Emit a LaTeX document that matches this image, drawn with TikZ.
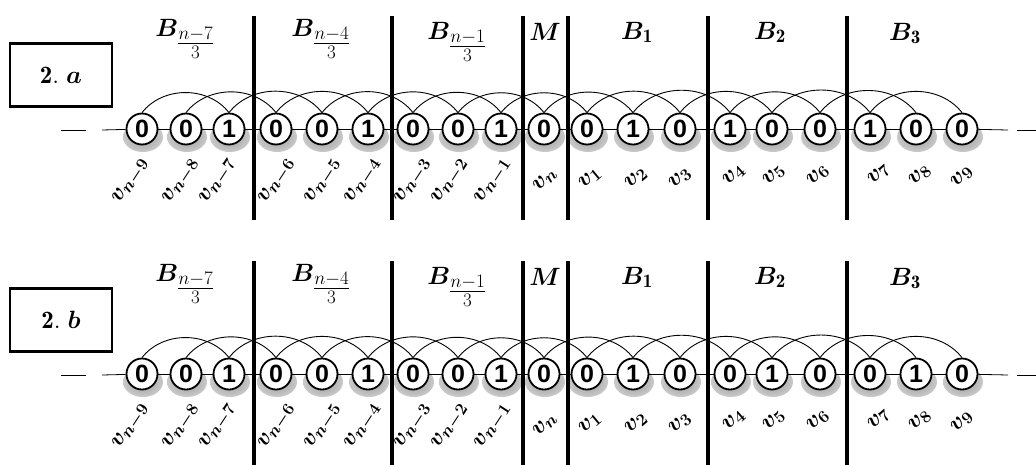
\RequirePackage{fix-cm}
\documentclass[tikz,border=0pt]{standalone}
\usepackage{amsmath}
\usepackage{bm}
\usepackage{fontspec}
\newfontfamily\digitfont{Liberation Sans}
\DeclareMathSizes{23}{23}{17}{13}
\DeclareMathSizes{25}{25}{19}{15}
\pgfdeclarelayer{shadowlayer}
\pgfdeclarelayer{linelayer}
\pgfsetlayers{shadowlayer,linelayer,main}
\pgfdeclareradialshading{ball}{\pgfpoint{0bp}{0bp}}{color(0bp)=(white); color(30bp)=(white); color(43bp)=(black!22); color(50bp)=(black!50); color(100bp)=(black!50)}
\pgfdeclareradialshading{softshadow}{\pgfpoint{0bp}{0bp}}{color(0bp)=(black!40); color(26bp)=(black!20); color(38bp)=(black!7); color(50bp)=(white); color(100bp)=(white)}
\tikzset{
  vtx/.style={circle, draw=black, line width=1.8pt, shade, shading=ball, minimum size=31pt, inner sep=0pt,
    font=\digitfont\bfseries\fontsize{25}{25}\selectfont},
  lab/.style={anchor=center, inner sep=0pt, font=\fontsize{23}{23}\selectfont},
  hdr/.style={anchor=base, inner sep=0pt, font=\fontsize{25}{25}\selectfont},
  tagbox/.style={draw, line width=2.8pt, minimum width=102pt, minimum height=63pt, inner sep=0pt},
  thinline/.style={line width=0.8pt},
  arcline/.style={line width=0.9pt},
  sepline/.style={line width=3.5pt},
}
\newcommand\drawrow[4]{%
\begin{scope}[yshift=-#2pt]
  \node[tagbox] (#1box) at (61,75) {\fontsize{25}{25}\selectfont$\mathbf{2}.\;\bm{#4}$};
  \foreach \x/\d/\l/\o/\oy/\r [count=\i] in {#3} {
    \node[vtx] (#1\i) at (\x,129) {\d};
    \node[lab, rotate=\r] (#1l\i) at (\x+\o,\oy) {$\bm{v}_{\bm{\l}}$};
    \begin{pgfonlayer}{shadowlayer}
      \shade[shading=softshadow] (\x+1,137) ellipse (20pt and 15pt);
    \end{pgfonlayer}
  }
  \coordinate (#1d1) at (61,130);
  \coordinate (#1d2) at (86,130);
  \coordinate (#1L) at (102,130);
  \coordinate (#1R) at (1008,130);
  \coordinate (#1d3) at (1017,130);
  \coordinate (#1d4) at (1040,130);
  \begin{pgfonlayer}{linelayer}
    \draw[thinline] (#1d1) -- (#1d2);
    \draw[thinline] (#1d3) -- (#1d4);
    \draw[thinline] (#1L) -- (#11);
    \foreach \i [evaluate=\i as \j using int(\i+1)] in {1,...,18} \draw[thinline] (#1\i) -- (#1\j);
    \draw[thinline] (#119) -- (#1R);
    \foreach \i [evaluate=\i as \j using int(\i+2)] in {1,...,17}
      \draw[arcline] (#1\i.north) to[out=52,in=128] (#1\j.north);
  \end{pgfonlayer}
  \foreach \sx in {254,392,523,568,708,847}
    \draw[sepline] (\sx,16) -- (\sx,220);
  \node[hdr] (#1h1) at (185,36) {$\bm{B}_{\genfrac{}{}{}{1}{n-7}{3}}$};
  \node[hdr] (#1h2) at (321,36) {$\bm{B}_{\genfrac{}{}{}{1}{n-4}{3}}$};
  \node[hdr] (#1h3) at (457,39) {$\bm{B}_{\genfrac{}{}{}{1}{n-1}{3}}$};
  \node[hdr] (#1h4) at (545,40) {$\bm{M}$};
  \node[hdr] (#1h5) at (637,39) {$\bm{B}_{\mathbf{1}}$};
  \node[hdr] (#1h6) at (770,39) {$\bm{B}_{\mathbf{2}}$};
  \node[hdr] (#1h7) at (905,40) {$\bm{B}_{\mathbf{3}}$};
\end{scope}}
\begin{document}
\begin{tikzpicture}[x=1pt,y=-1pt]
\useasboundingbox (0,0) rectangle (1036,464);
\drawrow{a}{0}{142/0/n-9/-11/181/57, 186/0/n-8/-5/181/57, 229/1/n-7/-11/181/57, 276/0/n-6/1/181/57, 322/0/n-5/1/181/57, 368/1/n-4/-5/181/57, 413/0/n-3/0/181/57, 458/0/n-2/-8/181/57, 501/1/n-1/-8/181/57, 544/0/n/1/180/45, 587/0/1/3/178/40, 633/1/2/3/178/40, 680/0/3/0/178/40, 730/1/4/4/175/42, 772/0/5/2/175/42, 820/0/6/-2/175/42, 870/1/7/9/174/42, 916/0/8/4/175/42, 962/0/9/0/177/45}{a}
\drawrow{b}{245}{142/0/n-9/-11/181/57, 186/0/n-8/-5/181/57, 229/1/n-7/-11/181/57, 276/0/n-6/1/181/57, 322/0/n-5/1/181/57, 368/1/n-4/-5/181/57, 413/0/n-3/0/181/57, 458/0/n-2/-8/181/57, 501/1/n-1/-8/181/57, 544/0/n/1/180/45, 587/0/1/3/178/40, 633/1/2/3/178/40, 680/0/3/0/178/40, 730/0/4/4/175/42, 772/1/5/2/175/42, 820/0/6/-2/175/42, 870/0/7/9/174/42, 916/1/8/4/175/42, 962/0/9/0/177/45}{b}
\end{tikzpicture}
\end{document}
